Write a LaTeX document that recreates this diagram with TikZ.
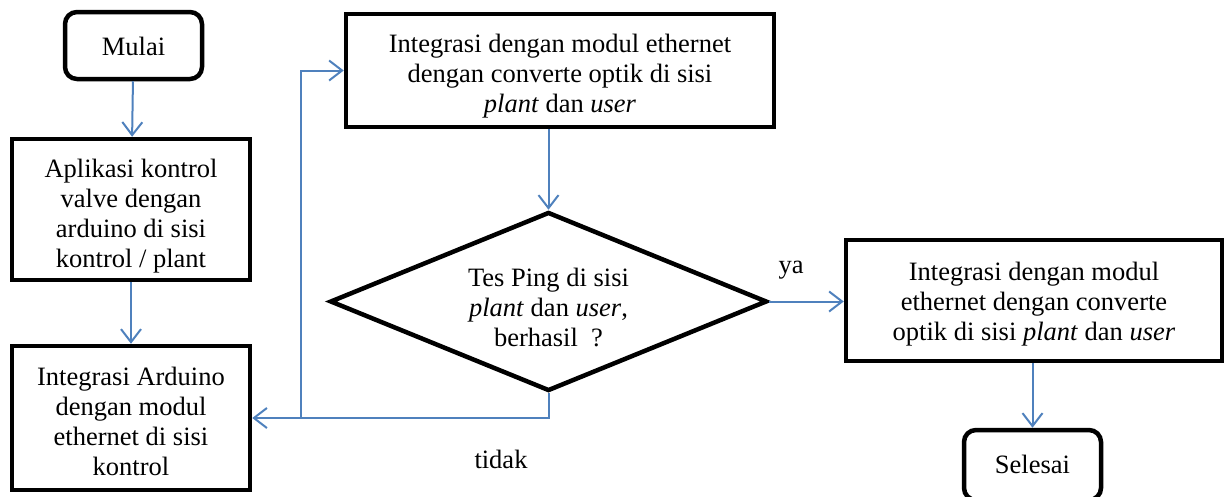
\documentclass[tikz,border=0pt]{standalone}
\usepackage{fontspec}
\setmainfont{Liberation Serif}
\usetikzlibrary{arrows.meta,shapes.geometric}
\definecolor{lineblue}{RGB}{79,129,189}
\begin{document}
\begin{tikzpicture}[x=1pt,y=-1pt,
  every node/.style={font=\fontsize{26.5}{30}\selectfont, align=center},
  box/.style={draw, line width=4.5pt, inner sep=0pt},
  term/.style={box, rounded corners=12pt},
  dec/.style={draw, line width=4.5pt, diamond, inner sep=0pt, aspect=2.44, minimum width=437pt, minimum height=179pt},
  txt/.style={inner sep=0pt},
  arr/.style={draw=lineblue, line width=2pt, -{Straight Barb[length=13pt,width=20pt]}},
  lbl/.style={inner sep=0pt}]
\useasboundingbox (0,0) rectangle (1224,496);
% shapes
\node[term, minimum width=137pt, minimum height=67pt] (mulai) at (133.5,45.5) {};
\node[box, minimum width=238pt, minimum height=141pt] (apl) at (131,209.5) {};
\node[box, minimum width=238pt, minimum height=144pt] (ard) at (131,418) {};
\node[box, minimum width=428pt, minimum height=113pt] (top) at (560,70.5) {};
\node[dec] (dec) at (548.5,301.5) {};
\node[box, minimum width=376pt, minimum height=121pt] (right) at (1034,300.5) {};
\node[term, minimum width=137pt, minimum height=70pt] (sel) at (1032.5,465) {};
% texts
\node[txt] (mulait) at (133.5,46) {Mulai};
\node[txt] (aplt) at (131,216) {Aplikasi kontrol\\valve dengan\\arduino di sisi\\kontrol / plant};
\node[txt] (ardt) at (131,421) {Integrasi Arduino\\dengan modul\\ethernet di sisi\\kontrol};
\node[txt] (topt) at (560,76) {Integrasi dengan modul ethernet\\dengan converte optik di sisi\\\textit{plant} dan \textit{user}};
\node[txt] (dect) at (548.5,307) {Tes Ping di sisi\\\textit{plant} dan \textit{user},\\berhasil\ \ ?};
\node[txt] (rightt) at (1034,304) {Integrasi dengan modul\\ethernet dengan converte\\optik di sisi \textit{plant} dan \textit{user}};
\node[txt] (selt) at (1032.5,464) {Selesai};
\node[lbl] (ya) at (791,270) {ya};
\node[lbl] (tidak) at (501,459) {tidak};
% connectors
\draw[arr] (mulai) -- (apl);
\draw[arr] (apl) -- (ard);
\draw[arr] (top.south -| dec.north) -- (dec.north);
\draw[arr] (dec.east) -- (dec.east -| right.west);
\draw[arr] (right.south -| sel.north) -- (sel.north);
\draw[arr] (dec.south) |- (ard.east);
\coordinate (j) at (301,418);
\draw[arr] (j) |- (top.west);
\end{tikzpicture}
\end{document}
